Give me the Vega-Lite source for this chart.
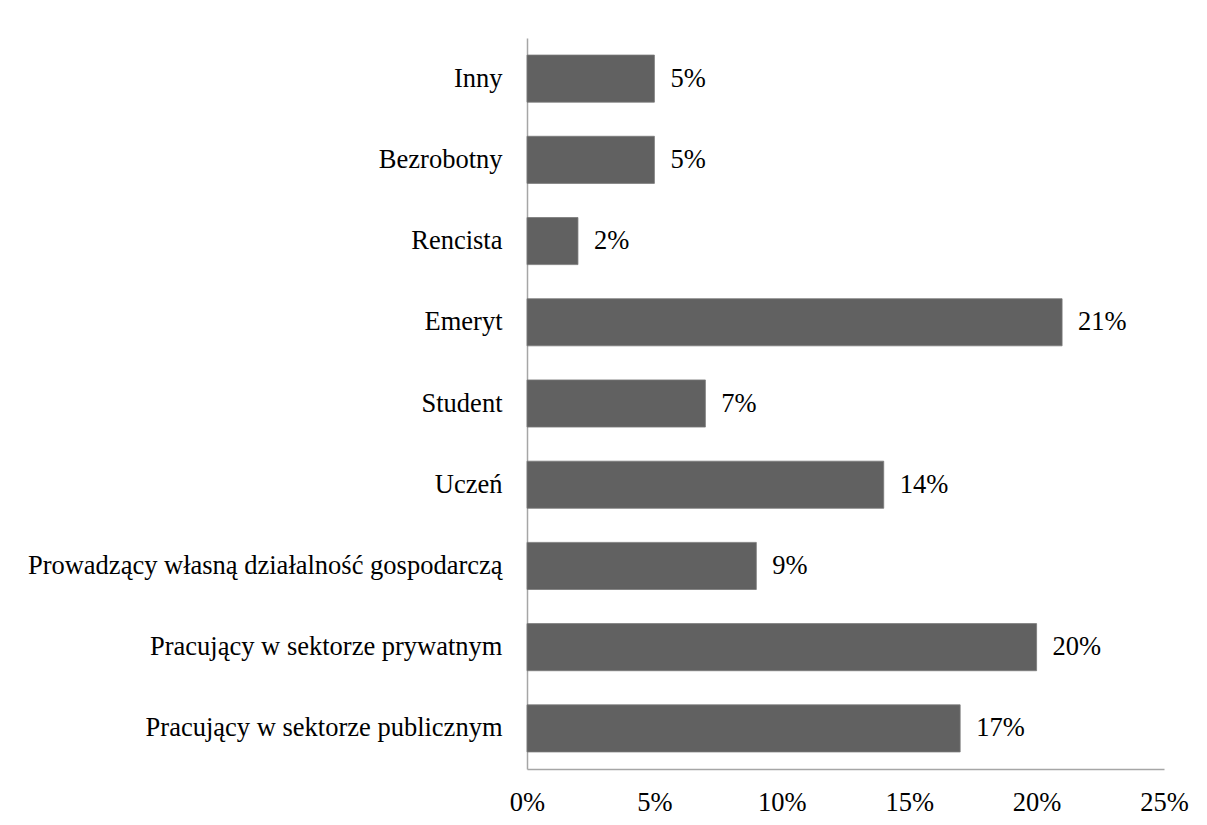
{
  "$schema": "https://vega.github.io/schema/vega-lite/v6.json",
  "autosize": "none",
  "padding": {"left": 527, "top": 38, "right": 43, "bottom": 56},
  "width": 637,
  "height": 731,
  "background": "white",
  "config": {
    "view": {"stroke": null},
    "font": "Liberation Serif"
  },
  "data": {
    "values": [
      {"kategoria": "Inny", "udzial": 0.05},
      {"kategoria": "Bezrobotny", "udzial": 0.05},
      {"kategoria": "Rencista", "udzial": 0.02},
      {"kategoria": "Emeryt", "udzial": 0.21},
      {"kategoria": "Student", "udzial": 0.07},
      {"kategoria": "Uczeń", "udzial": 0.14},
      {"kategoria": "Prowadzący własną działalność gospodarczą", "udzial": 0.09},
      {"kategoria": "Pracujący w sektorze prywatnym", "udzial": 0.20},
      {"kategoria": "Pracujący w sektorze publicznym", "udzial": 0.17}
    ]
  },
  "encoding": {
    "y": {
      "field": "kategoria",
      "type": "nominal",
      "sort": null,
      "scale": {"paddingInner": 0.42, "paddingOuter": 0.21},
      "axis": {
        "title": null,
        "ticks": false,
        "labelFont": "Liberation Serif",
        "labelFontSize": 26.5,
        "labelColor": "black",
        "labelPadding": 25,
        "labelLimit": 600,
        "domainColor": "#a6a6a6",
        "domainWidth": 1.5,
        "grid": false
      }
    },
    "x": {
      "field": "udzial",
      "type": "quantitative",
      "scale": {"domain": [0, 0.25], "nice": false},
      "axis": {
        "title": null,
        "format": ".0%",
        "values": [0, 0.05, 0.1, 0.15, 0.2, 0.25],
        "ticks": false,
        "grid": false,
        "labelFont": "Liberation Serif",
        "labelFontSize": 26.5,
        "labelColor": "black",
        "labelPadding": 20,
        "labelFlush": false,
        "domainColor": "#a6a6a6",
        "domainWidth": 1.5
      }
    }
  },
  "layer": [
    {
      "mark": {"type": "bar", "color": "#616161", "stroke": "#7a7a7a", "strokeWidth": 0.8}
    },
    {
      "mark": {"type": "text", "align": "left", "baseline": "middle", "dx": 16, "font": "Liberation Serif", "fontSize": 26.5, "color": "black"},
      "encoding": {
        "text": {"field": "udzial", "type": "quantitative", "format": ".0%"}
      }
    }
  ]
}
